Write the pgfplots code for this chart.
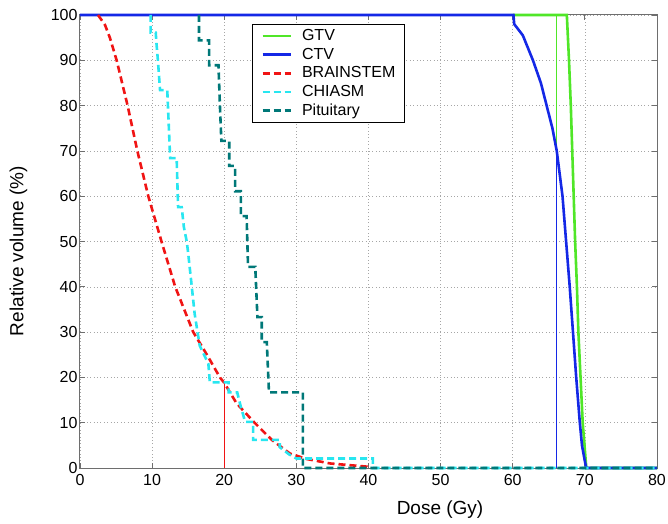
\documentclass[border=0pt]{standalone}
\usepackage{fontspec}
\setmainfont{Liberation Sans}
\usepackage{pgfplots}
\pgfplotsset{compat=1.18}
\definecolor{gtvgreen}{RGB}{80,230,40}
\definecolor{ctvblue}{RGB}{20,40,230}
\definecolor{bsred}{RGB}{240,20,20}
\definecolor{chcyan}{RGB}{40,230,240}
\definecolor{pitteal}{RGB}{0,120,120}
\definecolor{axgray}{RGB}{110,110,110}
\begin{document}
\begin{tikzpicture}[x=1pt,y=1pt]
\path[use as bounding box] (-80,-55) rectangle (588,468);
\begin{axis}[
  scale only axis, width=577pt, height=453pt,
  xmin=0, xmax=80, ymin=0, ymax=100,
  xtick={0,10,...,80}, ytick={0,10,...,100},
  tick align=inside, major tick length=5pt,
  axis line style={draw=axgray, line width=1pt},
  every tick/.style={axgray, line width=0.8pt},
  grid=major,
  major grid style={gray!70, line width=0.6pt, dash pattern=on 0.8pt off 2.6pt},
  /pgf/number format/assume math mode=true,
  ticklabel style={font=\fontsize{16}{19}\selectfont},
  xticklabel style={yshift=-3pt},
  yticklabel style={xshift=1pt},
  xlabel={Dose (Gy)}, ylabel={Relative volume (\%)},
  label style={font=\fontsize{19}{22}\selectfont},
  xlabel style={at={(axis description cs:0.624,-0.0927)}, anchor=center},
  ylabel style={at={(axis description cs:-0.1066,0.479)}, anchor=center},
  clip=false,
  legend cell align=left,
  legend image code/.code={\draw[#1] (0pt,0pt) -- (28.7pt,0pt);},
  legend style={at={(axis description cs:0.298,0.980)}, anchor=north west,
    draw=black, line width=0.6pt, fill=white,
    font=\fontsize{16}{19}\selectfont,
    inner xsep=9pt, inner ysep=4pt, column sep=9.5pt, row sep=3.7pt,
    nodes={inner sep=0pt, text height=12pt, text depth=3pt}},
]
% thin reference lines
\addplot[forget plot, gtvgreen, line width=0.5pt] coordinates {(66,0) (66,100)};
\addplot[forget plot, ctvblue, line width=0.5pt] coordinates {(66,0) (66,70)};
\addplot[forget plot, bsred, line width=0.5pt] coordinates {(20,0) (20,18.8)};

\addplot[gtvgreen, line width=2.6pt] coordinates {
 (60,100) (67.5,100) (67.8,90) (68.05,80) (68.25,70) (68.45,60) (68.65,50)
 (68.9,40) (69.1,30) (69.4,20) (69.7,10) (70.2,0) (80,0)};
\addlegendentry{GTV}

\addplot[ctvblue, line width=2.6pt] coordinates {
 (0,100) (60.1,100) (60.2,98) (61.4,95.5) (62.8,90) (63.9,85) (64.7,80)
 (65.5,75) (66.1,70) (66.9,60) (67.4,50) (67.9,40) (68.35,30) (68.8,20)
 (69.3,10) (69.6,5) (70.0,1.5) (70.2,0) (80,0)};
\addlegendentry{CTV}

\addplot[bsred, line width=2.6pt, dash pattern=on 7pt off 4pt] coordinates {
 (2.5,100) (3.47,97.8) (4.16,94.9) (5.08,90) (6.6,80) (7.95,70) (9.47,60)
 (11.3,50) (13.2,40) (15.7,30) (17.6,25) (19.4,20) (20,18.8) (21.7,14.3)
 (24.2,10) (26.6,6.2) (29.1,3.2) (31.4,2) (34.7,1) (39.8,0.3) (40,0)};
\addlegendentry{BRAINSTEM}

\addplot[chcyan, line width=2.6pt, dash pattern=on 7pt off 4pt] coordinates {
 (9.8,100) (9.8,96.1) (10.5,96.1) (10.6,93.8) (10.8,90) (11.1,83.4)
 (12.1,83.4) (12.5,68.4) (13.4,68.4) (13.6,57.6) (14.1,57.6) (14.4,53.2)
 (14.8,50) (15.0,47.4) (15.5,40) (15.9,34) (16.6,27) (17.2,25) (17.8,23)
 (18.0,18.9) (20.6,18.9) (20.6,16.7) (21.8,16.7) (22.3,13.5) (22.9,10.2)
 (24.0,10.2) (24.0,6.2) (27.7,6.2) (27.7,4.6) (29.0,3) (30.0,2.1)
 (40.6,2.1) (40.6,0) (80,0)};
\addlegendentry{CHIASM}

\addplot[pitteal, line width=2.6pt, dash pattern=on 7pt off 4pt] coordinates {
 (16.5,100) (16.5,94.4) (17.9,94.4) (17.9,88.9) (19.2,88.9) (19.4,80)
 (19.6,72.2) (20.7,72.2) (20.7,66.7) (21.5,66.7) (21.5,61.1) (22.3,61.1)
 (22.3,55.6) (23.1,55.6) (23.2,50) (23.3,44.4) (24.3,44.4) (24.6,33.3)
 (25.2,33.3) (25.2,27.8) (25.9,27.8) (26.2,16.7) (30.9,16.7) (30.9,0) (80,0)};
\addlegendentry{Pituitary}
\end{axis}
\end{tikzpicture}
\end{document}
